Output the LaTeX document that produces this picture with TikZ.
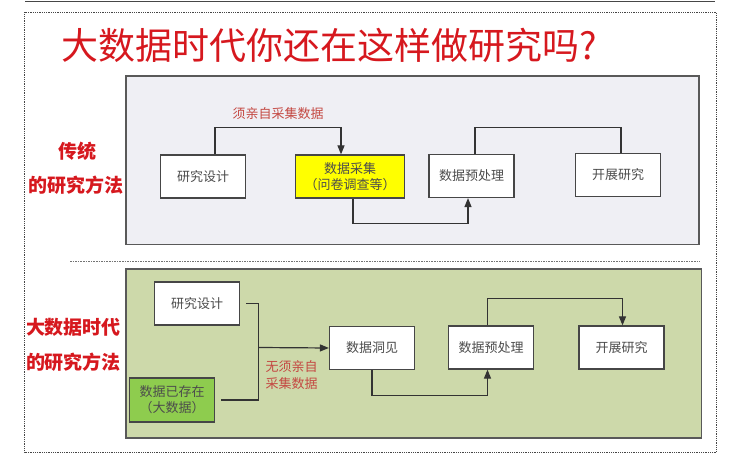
\documentclass[tikz,border=0pt]{standalone}
\usepackage{fontspec}
\setmainfont{Noto Sans CJK SC}
\usepackage{tikz}
\usetikzlibrary{shapes,arrows,positioning,calc,arrows.meta}

\definecolor{titlered}{RGB}{214,24,30}
\definecolor{notered}{RGB}{196,72,66}
\definecolor{panelgray}{RGB}{239,239,244}
\definecolor{panelgreen}{RGB}{205,217,170}
\definecolor{boxgreen}{RGB}{142,204,78}
\definecolor{boxyellow}{RGB}{255,255,0}
\definecolor{edge}{RGB}{70,70,70}

\begin{document}
\begin{tikzpicture}[
        x=1pt, y=-1pt,
        every node/.style={font=\fontsize{13}{16}\selectfont, text=black!70},
        box/.style={rectangle, draw=edge, line width=1.2pt, fill=white, minimum width=85pt, minimum height=43pt, align=center, inner sep=0pt},
        panel/.style={draw=edge!90, line width=1.5pt},
        arrow/.style={->, line width=1.2pt, draw=black!80, >={Triangle[length=9pt,width=7pt]}},
        line/.style={line width=1.2pt, draw=black!80},
        label/.style={font=\fontsize{13}{17}\selectfont, text=notered, align=center},
        side/.style={font=\fontsize{19}{23}\selectfont\bfseries, text=titlered},
    ]

        \useasboundingbox (0,0) rectangle (729,465);

        % slide frame
        \draw[edge, line width=0.6pt] (25,1) -- (715,1);
        \draw[edge, densely dotted, line width=0.8pt] (24.5,12.5) rectangle (716.5,452);
        \node[anchor=west, font=\fontsize{37}{40}\selectfont, text=titlered] (title) at (58,45) {大数据时代你还在这样做研究吗?};

        % traditional method
        \draw[panel, fill=panelgray] (126,76) rectangle (699,244.5);
        \node[side] (old1) at (77,151) {传统};
        \node[side] (old2) at (75.5,185) {的研究方法};

        \node[box] (design1) at (203,176.5) {研究设计};
        \node[box, fill=boxyellow, minimum width=109pt] (collect) at (350,176.5) {数据采集\\（问卷调查等）};
        \node[box] (prep1) at (471.5,176) {数据预处理};
        \node[box] (study1) at (618,175) {开展研究};

        \draw[arrow] ([xshift=12pt]design1.north) -- ++(0,-27) -| node[pos=0.25, above=4pt, label]{须亲自采集数据} ([xshift=-9pt]collect.north);
        \draw[arrow] ([xshift=3pt]collect.south) -- ++(0,25) -| ([xshift=-3.5pt]prep1.south);
        \draw[line] ([xshift=3.5pt]prep1.north) -- ++(0,-26) -| ([xshift=3pt]study1.north);

        \draw[black!55, densely dotted, line width=1.6pt] (70,261.5) -- (700,261.5);

        % big data method
        \draw[panel, fill=panelgreen] (126,269) rectangle (701.5,438);
        \node[side] (new1) at (73.5,327) {大数据时代};
        \node[side] (new2) at (73.5,362) {的研究方法};

        \node[box] (design2) at (197,303.5) {研究设计};
        \node[box, fill=boxgreen, minimum height=44pt] (exist) at (172,400) {数据已存在\\（大数据）};
        \node[box] (insight) at (372,348) {数据洞见};
        \node[box] (prep2) at (491,347.5) {数据预处理};
        \node[box] (study2) at (621.5,347.5) {开展研究};

        \coordinate (merge) at (258.5,347.5);
        \draw[line] ([xshift=6pt]design2.east) -| (merge);
        \draw[line] ([xshift=6pt]exist.east) -| (merge);
        \draw[arrow] (merge) -- (insight.west);
        \node[label, anchor=north west] (nocollect) at (262,357) {无须亲自\\采集数据};
        \draw[arrow] (insight.south) -- ++(0,25) -| ([xshift=-3.5pt]prep2.south);
        \draw[arrow] ([xshift=-3.5pt]prep2.north) -- ++(0,-27) -| ([xshift=1pt]study2.north);

    \end{tikzpicture}
\end{document}
